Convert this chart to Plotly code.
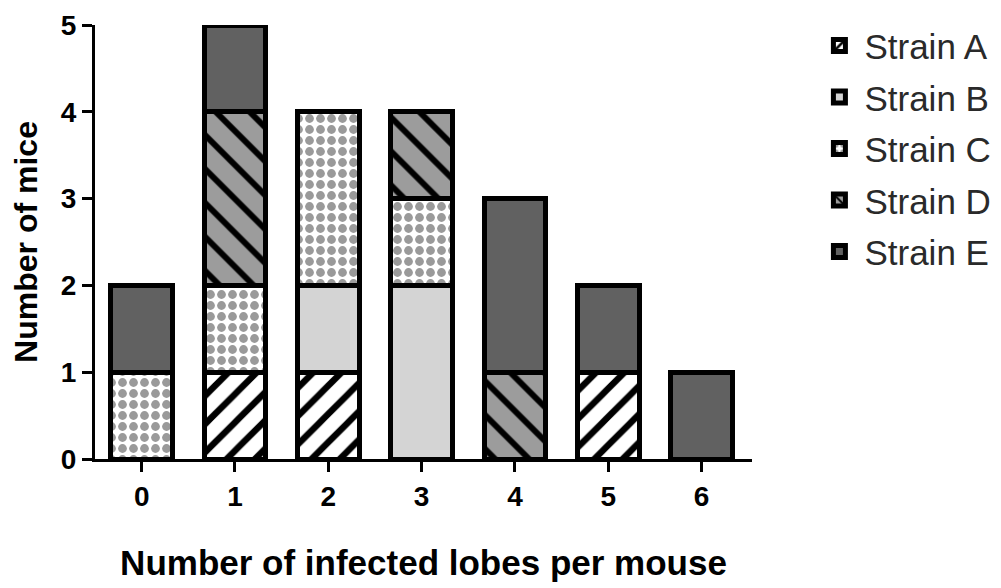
import plotly.graph_objects as go

categories = [0, 1, 2, 3, 4, 5, 6]
tick_labels = ["0", "1", "2", "3", "4", "5", "6"]
strain_a = [0, 1, 1, 0, 0, 1, 0]
strain_b = [0, 0, 1, 2, 0, 0, 0]
strain_c = [1, 1, 2, 1, 0, 0, 0]
strain_d = [0, 2, 0, 1, 1, 0, 0]
strain_e = [1, 1, 0, 0, 2, 1, 1]

series = [
    ("Strain A", strain_a, dict(color="white", pattern=dict(shape="/", fgcolor="black", bgcolor="white", fgopacity=1, size=20, solidity=0.32))),
    ("Strain B", strain_b, dict(color="#d4d4d4")),
    ("Strain C", strain_c, dict(color="white", pattern=dict(shape=".", fgcolor="#9a9a9a", bgcolor="white", fgopacity=1, size=11, solidity=0.5))),
    ("Strain D", strain_d, dict(color="#9c9c9c", pattern=dict(shape="\\", fgcolor="black", bgcolor="#9c9c9c", fgopacity=1, size=24, solidity=0.25))),
    ("Strain E", strain_e, dict(color="#616161")),
]

fig = go.Figure()
for name, vals, mk in series:
    mk = dict(mk)
    mk["line"] = dict(color="black", width=5)
    fig.add_trace(go.Bar(
        x=categories, y=vals, name=name, marker=mk, width=0.66,
        cliponaxis=False, legendgroup=name,
    ))

font_family = "Liberation Sans, Arial, sans-serif"
fig.update_layout(
    barmode="stack",
    width=993, height=580,
    margin=dict(l=87, r=249, t=17, b=129, autoexpand=False),
    plot_bgcolor="white", paper_bgcolor="white",
    font=dict(family=font_family, color="black"),
    legend=dict(
        x=1.095, y=1.02, xanchor="left", yanchor="top",
        traceorder="grouped", tracegroupgap=3,
        font=dict(size=35, family=font_family, color="#2a2a2a"),
        itemwidth=40,
    ),
    xaxis=dict(
        range=[-0.5, 6.54], tickmode="array", tickvals=categories, ticktext=tick_labels,
        showline=True, linecolor="black", linewidth=3, ticks="outside", ticklen=10,
        tickwidth=3, tickcolor="black", showgrid=False, zeroline=False,
        tickfont=dict(size=28, family=font_family, weight="bold"),
        title=dict(text="<b>Number of infected lobes per mouse</b>", font=dict(size=35), standoff=40),
        automargin=False,
    ),
    yaxis=dict(
        range=[0, 5], tickvals=[0, 1, 2, 3, 4, 5],
        showline=True, linecolor="black", linewidth=3, ticks="outside", ticklen=10,
        tickwidth=3, tickcolor="black", showgrid=False, zeroline=False,
        tickfont=dict(size=28, family=font_family, weight="bold"),
        title=dict(text="<b>Number of mice</b>", font=dict(size=32), standoff=14),
        automargin=False,
    ),
)

fig.write_html("out.html")
